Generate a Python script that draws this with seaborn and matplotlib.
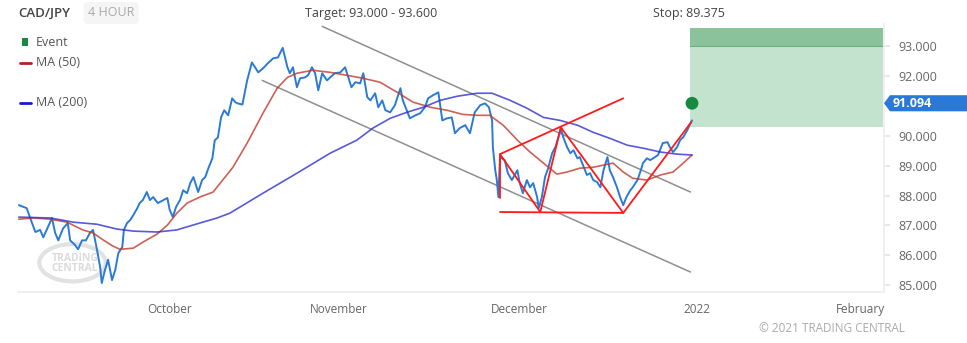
import seaborn as sns
import matplotlib.pyplot as plt
import matplotlib.patches as mpatches
import matplotlib.transforms as mtransforms
import pandas as pd
import numpy as np

# x is in trading days from the start of the chart (weekends skipped)
price_x = [0.1, 1.1, 1.5, 2.2, 2.8, 3.2, 3.8, 4.3, 4.7, 5.1, 5.7, 6.3, 6.6, 7.2, 7.6, 8.1, 8.6, 9.1, 9.5,
           10.0, 10.4, 10.6, 11.0, 11.4, 11.9, 12.3, 12.7, 13.2, 13.4, 13.8, 14.2, 14.6, 15.1, 15.4, 15.8,
           16.3, 16.7, 17.1, 17.7, 18.4, 18.9, 19.2, 19.6, 20.0, 20.5, 20.9, 21.4, 21.8, 22.2, 22.8, 23.3,
           23.7, 24.1, 24.6, 24.9, 25.3, 25.7, 26.1, 26.6, 27.1, 27.5, 27.8, 28.4, 29.0, 29.6, 30.0, 30.4,
           31.0, 31.6, 32.3, 32.9, 33.5, 34.1, 34.4, 34.8, 35.3, 35.7, 36.3, 36.7, 37.2, 37.6, 38.0, 38.5,
           39.1, 39.5, 40.1, 40.8, 41.4, 41.8, 42.2, 42.7, 43.3, 43.7, 44.2, 44.6, 45.2, 45.6, 46.1, 46.5,
           47.1, 47.7, 48.4, 48.7, 49.2, 49.6, 50.3, 50.9, 51.5, 51.9, 52.5, 53.2, 53.7, 54.3, 54.9, 55.3,
           55.9, 56.6, 57.2, 57.8, 58.5, 59.1, 59.6, 60.0, 60.1, 60.4, 60.6, 60.8, 61.0, 61.6, 62.0, 62.5,
           63.2, 63.5, 63.9, 64.4, 64.8, 65.2, 65.7, 65.9, 66.3, 66.7, 67.1, 67.6, 68.0, 68.4, 68.7, 69.0,
           69.5, 69.9, 70.3, 70.8, 71.1, 71.5, 72.0, 72.4, 72.8, 73.3, 73.7, 74.1, 74.6, 74.9, 75.3, 75.8,
           76.2, 76.6, 77.0, 77.5, 77.8, 78.4, 78.7, 79.1, 79.6, 80.0, 80.4, 81.0, 81.6, 82.2, 82.5, 82.9,
           83.4, 83.8, 84.2, 84.7, 85.1, 85.3]
price = [87.68, 87.58, 87.28, 86.78, 86.85, 86.60, 86.95, 87.25, 86.75, 86.50, 86.90, 87.08, 86.50, 86.35,
         86.20, 86.50, 86.50, 86.75, 86.85, 86.18, 85.60, 85.07, 85.50, 85.85, 85.17, 85.50, 86.07, 86.28,
         86.85, 87.08, 87.18, 87.35, 87.58, 87.75, 87.85, 88.12, 87.85, 87.95, 87.75, 87.85, 87.92, 87.52,
         87.28, 87.62, 87.85, 88.18, 88.08, 88.42, 88.62, 88.12, 88.52, 88.62, 88.92, 89.25, 89.85, 89.95,
         90.62, 90.86, 90.69, 91.26, 91.13, 91.09, 91.05, 91.86, 92.46, 92.30, 92.13, 92.26, 92.43, 92.60,
         92.63, 92.95, 92.30, 92.10, 92.30, 91.63, 91.93, 91.96, 92.03, 92.30, 92.10, 91.53, 92.10, 91.86,
         91.96, 92.10, 92.13, 92.30, 91.96, 91.63, 91.80, 91.76, 92.10, 91.30, 91.19, 91.43, 90.96, 91.19,
         90.86, 90.79, 91.03, 91.60, 91.19, 90.86, 90.59, 90.69, 90.76, 90.96, 91.26, 91.36, 91.46, 90.52,
         90.59, 90.62, 90.09, 90.26, 90.36, 90.09, 90.79, 91.03, 91.09, 90.96, 90.52, 89.62, 88.85, 88.52,
         87.95, 89.29, 89.19, 88.75, 88.52, 88.85, 88.42, 88.08, 88.52, 88.28, 88.42, 87.95, 87.58, 87.95,
         88.62, 88.92, 89.42, 89.62, 89.96, 90.26, 89.96, 89.62, 89.42, 89.52, 89.25, 89.29, 89.02, 88.69,
         88.75, 88.52, 88.45, 88.28, 88.85, 89.29, 88.85, 88.62, 88.28, 87.95, 87.68, 87.95, 88.18, 88.28,
         88.52, 88.75, 89.09, 89.25, 89.19, 89.25, 89.36, 89.76, 89.79, 89.62, 89.46, 89.62, 89.86, 89.96,
         90.19, 90.42, 90.52]

ma50_x = [0.1, 1.9, 4.1, 6.2, 8.2, 9.5, 10.8, 12.0, 12.9, 14.6, 15.8, 17.6, 18.9, 20.1, 21.4, 23.0, 24.7,
          25.9, 27.2, 29.0, 31.0, 32.8, 34.1, 35.3, 37.3, 39.5, 41.6, 43.7, 45.8, 48.0, 50.0, 52.2, 54.3,
          56.3, 58.1, 59.7, 61.4, 63.2, 64.8, 66.5, 68.2, 69.5, 71.1, 72.8, 74.6, 75.3, 76.6, 77.8, 79.6,
          81.3, 82.9, 84.2, 85.3]
ma50 = [87.21, 87.25, 87.21, 87.11, 86.85, 86.75, 86.51, 86.31, 86.20, 86.24, 86.44, 86.71, 87.01, 87.41,
        87.75, 87.95, 88.12, 88.52, 88.95, 89.76, 90.76, 91.60, 91.96, 92.10, 92.20, 92.13, 92.03, 91.93,
        91.80, 91.46, 91.13, 90.96, 90.86, 90.72, 90.69, 90.69, 90.36, 89.86, 89.46, 89.09, 88.72, 88.79,
        88.92, 88.95, 89.05, 89.09, 88.79, 88.58, 88.52, 88.69, 88.79, 89.09, 89.36]

ma200_x = [0.1, 4.1, 7.0, 10.0, 12.5, 14.6, 17.6, 20.1, 23.0, 25.2, 26.8, 31.0, 35.3, 39.5, 42.9, 44.9,
           47.1, 49.2, 51.3, 53.4, 55.6, 58.1, 60.0, 62.3, 64.4, 66.5, 68.6, 70.8, 72.8, 74.9, 77.1, 79.1,
           81.3, 83.4, 85.3]
ma200 = [87.28, 87.25, 87.11, 87.04, 86.88, 86.81, 86.78, 86.85, 87.08, 87.25, 87.41, 88.08, 88.75, 89.42,
         89.86, 90.26, 90.59, 90.79, 90.96, 91.19, 91.33, 91.43, 91.43, 91.19, 90.93, 90.62, 90.52, 90.36,
         90.12, 89.92, 89.69, 89.59, 89.46, 89.39, 89.36]

# channel lines
chan_upper_x = [38.5, 85.1]
chan_upper = [93.67, 88.12]
chan_lower_x = [30.9, 85.1]
chan_lower = [91.86, 85.44]

# red pattern
pat_x = [61.0, 61.0, 66.1, 68.7, 76.6, 85.2]
pat_y = [87.92, 89.39, 87.45, 90.29, 87.42, 90.46]
pat_top_x = [61.0, 76.6]
pat_top = [89.39, 91.26]
pat_base_x = [61.0, 76.6]
pat_base = [87.45, 87.42]

target_lo, target_hi = 93.0, 93.6
entry = 90.3
zone_x = [85.1, 109.5]
event_x, event_y = 85.3, 91.094
last_price = 91.094

tick_pos = [19.2, 40.6, 63.4, 85.9, 106.6]
tick_lab = ["October", "November", "December", "2022", "February"]
y_ticks = [85, 86, 87, 88, 89, 90, 92, 93]

sns.set_theme(style="white")
plt.rcParams['font.family'] = ['Open Sans', 'DejaVu Sans']

fig = plt.figure(figsize=(9.67, 3.43), dpi=100)
ax = fig.add_axes([18/967, 1-292/343, (884-18)/967, (292-24)/343])

ax.fill_between(zone_x, entry, target_lo, color="#c4e3cf", lw=0, zorder=1)
ax.fill_between(zone_x, target_lo, target_hi, color="#8ac29c", lw=0, zorder=1)
ax.plot(zone_x, [target_lo, target_lo], color="#6fae84", lw=0.8, zorder=1)

sns.lineplot(x=chan_upper_x, y=chan_upper, ax=ax, color="#8f8f8f", linewidth=1.1, zorder=2)
sns.lineplot(x=chan_lower_x, y=chan_lower, ax=ax, color="#8f8f8f", linewidth=1.1, zorder=2)

sns.lineplot(x=price_x, y=price, ax=ax, color="#2a7ad6", linewidth=1.4, estimator=None, zorder=3)
sns.lineplot(x=ma50_x, y=ma50, ax=ax, color="#c0392b", linewidth=1.2, alpha=0.8, zorder=4)
sns.lineplot(x=ma200_x, y=ma200, ax=ax, color="#2f2fd0", linewidth=1.2, alpha=0.8, zorder=4)

ax.plot(pat_x, pat_y, color="#ff1a1a", lw=1.3, zorder=5)
ax.plot(pat_top_x, pat_top, color="#ff1a1a", lw=1.3, zorder=5)
ax.plot(pat_base_x, pat_base, color="#ff1a1a", lw=1.3, zorder=5)

ax.scatter([event_x], [event_y], s=85, color="#168a3e", zorder=6, edgecolor="none")

ax.set_xlim(0, 109.6)
ax.set_ylim(84.77, 93.75)
ax.yaxis.tick_right()
ax.set_yticks(y_ticks)
ax.set_yticklabels([f"{v:.3f}" for v in y_ticks])
ax.set_xticks(tick_pos)
ax.set_xticklabels(tick_lab)
ax.tick_params(axis="y", colors="#e6e6e6", labelcolor="#666666", labelsize=9, length=4, pad=6)
ax.tick_params(axis="x", colors="#e6e6e6", labelcolor="#666666", labelsize=8.5, length=4, pad=4)
for s in ["top", "left"]:
    ax.spines[s].set_visible(False)
for s in ["bottom", "right"]:
    ax.spines[s].set_color("#eeeeee")
ax.set_xlabel("")
ax.set_ylabel("")

# last price tag: box from the axis edge to the figure edge, pointer at the axis
tr = mtransforms.blended_transform_factory(ax.transAxes, ax.transData)
half = 0.27
tag = mpatches.Polygon([(1.0, last_price), (1.0069, last_price + half), (1.1, last_price + half),
                        (1.1, last_price - half), (1.0069, last_price - half)],
                       closed=True, transform=tr, fc="#2a78d8", ec="none", clip_on=False, zorder=7)
ax.add_patch(tag)
ax.text(1.0105, last_price, f"{last_price:.3f}", transform=tr, va="center", ha="left",
        color="white", fontsize=9, fontweight="bold", clip_on=False, zorder=8)

# watermark
ax.add_patch(mpatches.Ellipse((6.9, 85.75), 8.4, 1.25, fill=False, ec="#e2e2e2", lw=3, zorder=0))
ax.text(7.2, 85.72, "TRADING\nCENTRAL", ha="center", va="center", fontsize=7.5, color="#dcdcdc",
        fontweight="bold", linespacing=0.85, zorder=0)

# header
fig.text(18/967, 1-13/343, "CAD/JPY", fontsize=9.5, color="#444444", va="center", fontweight="semibold")
fig.text(88/967, 1-13/343, "4 HOUR", fontsize=9, color="#aaaaaa", va="center",
         bbox=dict(boxstyle="round,pad=0.35", fc="#f5f5f5", ec="none"))
fig.text(371/967, 1-13/343, "Target: 93.000 - 93.600", fontsize=9, color="#444444", va="center", ha="center")
fig.text(689/967, 1-13/343, "Stop: 89.375", fontsize=9, color="#444444", va="center", ha="center")

# legend
fig.patches.append(mpatches.Rectangle((22/967, 1-45.5/343), 6/967, 7/343, transform=fig.transFigure,
                                      fc="#168a3e", ec="none"))
fig.text(36/967, 1-42/343, "Event", fontsize=9, color="#555555", va="center")
fig.lines.append(plt.Line2D([20/967, 31/967], [1-63/343, 1-63/343], transform=fig.transFigure,
                            color="#b22222", lw=2))
fig.text(36/967, 1-63/343, "MA (50)", fontsize=9, color="#555555", va="center")
fig.lines.append(plt.Line2D([20/967, 31/967], [1-103/343, 1-103/343], transform=fig.transFigure,
                            color="#1a1acc", lw=2))
fig.text(36/967, 1-103/343, "MA (200)", fontsize=9, color="#555555", va="center")

fig.text(905/967, 1-328/343, "© 2021 TRADING CENTRAL", fontsize=8.5, color="#aaaaaa", va="center", ha="right")

fig.savefig("out.png", dpi=100)
